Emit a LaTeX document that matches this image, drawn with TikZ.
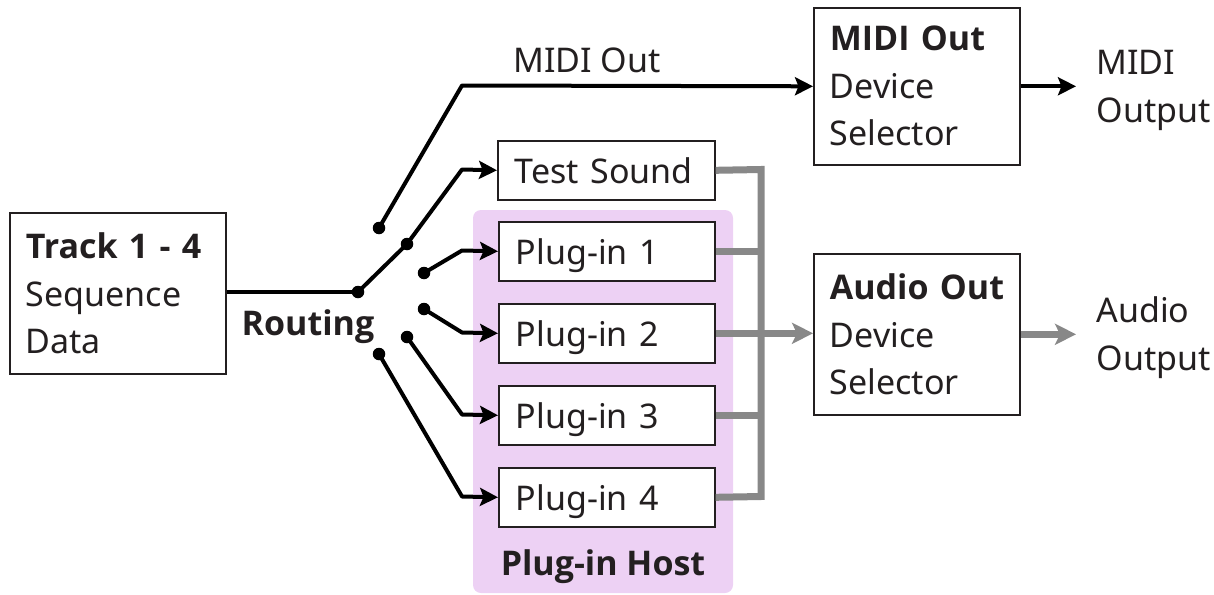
\documentclass[tikz,border=0pt]{standalone}
\usepackage{fontspec}
\setmainfont{Noto Sans}[BoldFont={Open Sans Bold}]
\usetikzlibrary{arrows.meta}
\definecolor{hostpink}{HTML}{EDD1F4}
\definecolor{audiogray}{HTML}{888888}
\definecolor{inkblack}{HTML}{231F20}
\tikzset{
  txt/.style={font=\fontsize{34}{47.5}\selectfont, text=inkblack},
  boldtxt/.style={font=\fontsize{34}{47.5}\selectfont\bfseries, text=inkblack},
  boxnode/.style={draw=inkblack, line width=1.6pt, fill=white, txt, align=left, inner xsep=16pt, anchor=north west},
  onebox/.style={boxnode, text depth=0pt},
  dotnode/.style={circle, fill=black, inner sep=0pt, minimum size=12.5pt},
  blk/.style={draw=black, line width=4pt, line join=round},
  blkarr/.style={blk, -{Stealth[length=18pt,width=18pt,inset=3.5pt]}},
  gry/.style={draw=audiogray, line width=7pt},
  gryarr/.style={gry, -{Stealth[length=21pt,width=21pt,inset=5pt]}}
}
\begin{document}
\begin{tikzpicture}[x=1pt,y=-1pt]
\useasboundingbox (0,0) rectangle (1214,594);
% plug-in host background
\fill[hostpink, rounded corners=8pt] (473,210) rectangle (733,593);
\node[boldtxt, anchor=base] (hostlbl) at (603,575) {Plug-in Host};

% boxes
\node[boxnode, minimum width=216pt, minimum height=161pt, text width=184pt] (track) at (9,212)
  {\mbox{\textbf{Track 1 - 4}}\\Sequence\\Data};
\node[boxnode, minimum width=206pt, minimum height=157pt, text width=174pt] (midi) at (813,7)
  {\mbox{\textbf{MIDI Out}}\\Device\\Selector};
\node[boxnode, minimum width=206pt, minimum height=161pt, text width=174pt] (audio) at (813,253)
  {\mbox{\textbf{Audio Out}}\\Device\\Selector};
\node[onebox, minimum width=217pt, minimum height=59pt, text width=183pt, inner xsep=17pt] (ts) at (497,140) {Test Sound};
\node[onebox, minimum width=216pt, minimum height=59pt, text width=182pt, inner xsep=17pt] (p1) at (498,221) {Plug-in 1};
\node[onebox, minimum width=216pt, minimum height=59pt, text width=182pt, inner xsep=17pt] (p2) at (498,303) {Plug-in 2};
\node[onebox, minimum width=216pt, minimum height=59pt, text width=182pt, inner xsep=17pt] (p3) at (498,385) {Plug-in 3};
\node[onebox, minimum width=216pt, minimum height=59pt, text width=182pt, inner xsep=17pt] (p4) at (498,467) {Plug-in 4};

% labels
\node[txt, anchor=base] (midilbl) at (587,73) {MIDI Out};
\node[boldtxt, anchor=base] (routing) at (308,335) {Routing};
\node[txt, align=left, anchor=base west] (midiout) at (1093,122) {MIDI\\Output};
\node[txt, align=left, anchor=base west] (audioout) at (1093,370) {Audio\\Output};

% routing dots
\node[dotnode] (junc) at (358,292) {};
\node[dotnode] (dm) at (379,228) {};
\node[dotnode] (dt) at (407,244) {};
\node[dotnode] (d1) at (424,273) {};
\node[dotnode] (d2) at (424,309) {};
\node[dotnode] (d3) at (407,337) {};
\node[dotnode] (d4) at (379,354) {};

% bend points
\coordinate (bm) at (462,85.5);
\coordinate (bt) at (462,169.5);
\coordinate (b1) at (462,250.5);
\coordinate (b2) at (462,332.5);
\coordinate (b3) at (462,414.5);
\coordinate (b4) at (462,496.5);
\coordinate (midiend) at (1076,85.5);
\coordinate (audioend) at (1076,333.5);
\coordinate (busT) at (761,169.5);
\coordinate (busB) at (761,496.5);

% black connectors
\draw[blk] (track.east |- junc) -- (junc.center);
\draw[blkarr] (junc.center) -- (dt.center) -- (bt) -- (ts.west);
\draw[blkarr] (dm.center) -- (bm) -- (midi.west);
\draw[blkarr] (d1.center) -- (b1) -- (p1.west);
\draw[blkarr] (d2.center) -- (b2) -- (p2.west);
\draw[blkarr] (d3.center) -- (b3) -- (p3.west);
\draw[blkarr] (d4.center) -- (b4) -- (p4.west);
\draw[blkarr] (midi.east) -- (midi.east -| midiend);

% gray audio bus
\draw[gry] (ts.east) -- (busT) -- (busB) -- (p4.east);
\draw[gry] (p1.east) -- (p1.east -| busT);
\draw[gry] (p3.east) -- (p3.east -| busT);
\draw[gryarr] (p2.east) -- (audio.west |- p2.east);
\draw[gryarr] (audio.east) -- (audio.east -| audioend);
\end{tikzpicture}
\end{document}
